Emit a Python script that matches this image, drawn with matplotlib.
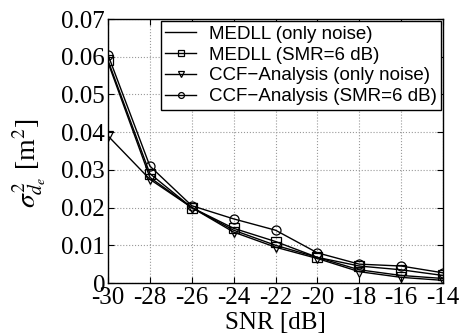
import numpy as np
import matplotlib
matplotlib.use("Agg")
import matplotlib.pyplot as plt

plt.rcParams["mathtext.fontset"] = "stix"

snr = [-30, -28, -26, -24, -22, -20, -18, -16, -14]
medll_noise = [0.0585, 0.0280, 0.0200, 0.0140, 0.0100, 0.0068, 0.0035, 0.0020, 0.0012]
medll_smr = [0.0590, 0.0290, 0.0200, 0.0145, 0.0110, 0.0068, 0.0045, 0.0035, 0.0020]
ccf_noise = [0.0390, 0.0275, 0.0200, 0.0135, 0.0095, 0.0065, 0.0030, 0.0015, 0.0007]
ccf_smr = [0.0605, 0.0310, 0.0205, 0.0170, 0.0140, 0.0080, 0.0050, 0.0045, 0.0027]

xticks = [-30, -28, -26, -24, -22, -20, -18, -16, -14]
yticks = [0, 0.01, 0.02, 0.03, 0.04, 0.05, 0.06, 0.07]

fig = plt.figure(figsize=(4.63, 3.36), dpi=100)
ax = fig.add_axes([108/463, 1 - 283/336, (443-108)/463, (283-19)/336])

mk = dict(color="black", linewidth=1.0, markerfacecolor="none",
          markeredgecolor="black", markersize=6.5, markeredgewidth=0.9)
ax.plot(snr, medll_noise, label="MEDLL (only noise)", **mk)
ax.plot(snr, medll_smr, marker="s", label="MEDLL (SMR=6 dB)", **mk)
ax.plot(snr, ccf_noise, marker="v", label="CCF\u2212Analysis (only noise)", **mk)
ax.plot(snr, ccf_smr, marker="o", label="CCF\u2212Analysis (SMR=6 dB)", **mk)

ax.set_xlim(-30, -14)
ax.set_ylim(0, 0.07)
ax.set_xticks(xticks)
ax.set_xticklabels([str(t) for t in xticks], family="Liberation Serif", fontsize=18)
ax.set_yticks(yticks)
ax.set_yticklabels(["0"] + ["%.2f" % t for t in yticks[1:]], family="Liberation Serif", fontsize=18)
ax.tick_params(direction="in", length=4, pad=2, top=True, right=True)
ax.tick_params(axis="x", pad=3)
ax.grid(True, linestyle=":", color="#999999", linewidth=0.8)
for s in ax.spines.values():
    s.set_linewidth(1.0)

ax.set_xlabel("SNR [dB]", family="Liberation Serif", fontsize=18, labelpad=2)
ax.set_ylabel(r"$\sigma^2_{d_e}$ [m$^2$]", family="Liberation Serif", fontsize=20)
ax.yaxis.set_label_coords(-0.18, 0.455)

leg = ax.legend(loc="upper right", prop={"family": "Liberation Sans", "size": 13.5},
                fancybox=False, framealpha=1, edgecolor="black",
                borderpad=0.25, labelspacing=0.2, handlelength=1.65,
                handletextpad=0.65, borderaxespad=0.1, markerscale=0.65)
leg.get_frame().set_linewidth(1.0)

fig.savefig("out.png", dpi=100)
